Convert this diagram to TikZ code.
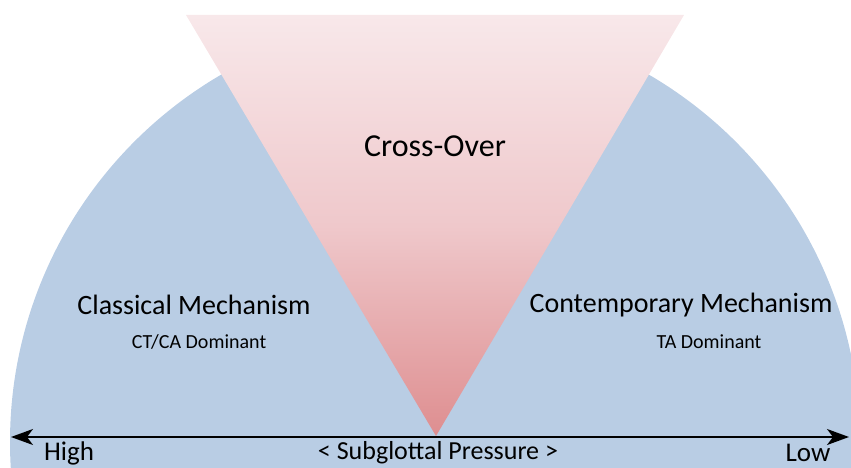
\documentclass[tikz,border=0pt]{standalone}
\usepackage{fontspec}
\setmainfont{Carlito}
\usetikzlibrary{arrows.meta}
\definecolor{bluefill}{RGB}{185,205,228}
\definecolor{pinktop}{RGB}{248,232,234}
\definecolor{pinkmid}{RGB}{239,200,203}
\definecolor{pinkbot}{RGB}{222,142,144}
\tikzset{
  lbl/.style={font=\fontsize{28}{33}\selectfont, text=black, inner sep=0pt},
  sublbl/.style={font=\fontsize{20}{24}\selectfont, text=black, inner sep=0pt},
  big/.style={font=\fontsize{32}{37}\selectfont, text=black, inner sep=0pt},
  axislbl/.style={font=\fontsize{27}{32}\selectfont, text=black, inner sep=0pt},
  axis/.style={line width=1.6pt, {Stealth[length=22pt,width=16pt,inset=6pt]}-{Stealth[length=22pt,width=16pt,inset=6pt]}}
}
\begin{document}
\begin{tikzpicture}[x=1pt,y=-1pt]
\useasboundingbox (0,0) rectangle (851,468);
\begin{scope}
\clip (0,0) rectangle (851,468);
\fill[bluefill] (435,442) circle[radius=425];
\end{scope}
\shade[top color=pinktop, bottom color=pinkbot, middle color=pinkmid] (186,15) -- (684,15) -- (436,436) -- cycle;
\coordinate (L) at (11,437);
\coordinate (R) at (849,437);
\draw[axis] (L) -- (R);
\node[big] (cross) at (435,146) {Cross-Over};
\node[lbl] (classical) at (194,305) {Classical Mechanism};
\node[sublbl] (ctca) at (199,342) {CT/CA Dominant};
\node[lbl] (contemp) at (681,305) {Contemporary Mechanism};
\node[sublbl] (ta) at (709,342) {TA Dominant};
\node[axislbl] (high) at (69,453) {High};
\node[axislbl] (low) at (808,453) {Low};
\node[axislbl, font=\fontsize{26}{31}\selectfont] (sub) at (438,453) {< Subglottal Pressure >};
\end{tikzpicture}
\end{document}
